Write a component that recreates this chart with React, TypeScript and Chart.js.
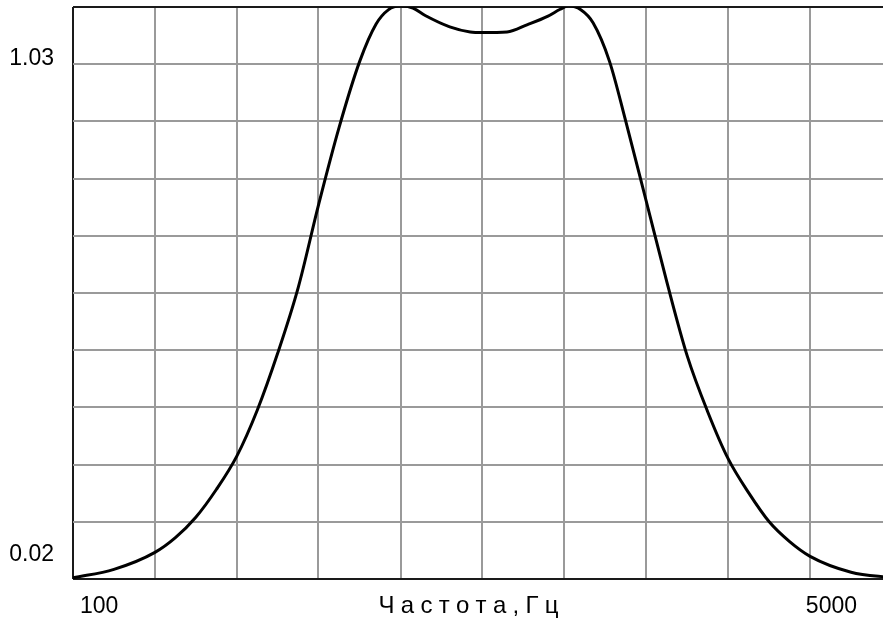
import React, { useEffect, useRef } from "react";
import { Chart, registerables } from "chart.js";

Chart.register(...registerables);

// Frequency axis (Hz), logarithmic, min / max shown as labels
const xRange = [100, 5000];
const xGrid = [100, 148, 219, 323, 478, 707, 1046, 1546, 2287, 3381, 5000];
// Amplitude axis, min / max shown as labels
const yRange = [0.02, 1.03];
const yGrid = [0.02, 0.121, 0.222, 0.323, 0.424, 0.525, 0.626, 0.727, 0.828, 0.929, 1.03];
const xTickLabels = ["100", "5000"];
const yTickLabels = ["0.02", "1.03"];
const axisTitle = "Частота,Гц";

// Response curve
const frequencies = [
  100, 121.6, 147.9, 163.1, 179.8, 198.3, 218.7, 241.1, 265.9, 293.3, 323.4,
  356.6, 393.3, 425.4, 450.9, 478.3, 507.3, 537.8, 604.7, 666.8, 707.1,
  795.1, 876.9, 967, 1025, 1066, 1131, 1199, 1297, 1402, 1546, 1705, 1880,
  2074, 2287, 2522, 2781, 3066, 3381, 4112, 5000,
];
const amplitudes = [
  0.022, 0.037, 0.067, 0.093, 0.129, 0.178, 0.237, 0.318, 0.419, 0.535, 0.682,
  0.818, 0.934, 1.0, 1.025, 1.032, 1.028, 1.015, 0.995, 0.986, 0.985,
  0.986, 0.999, 1.014, 1.026, 1.032, 1.025, 1.002, 0.934, 0.828, 0.687, 0.545, 0.414,
  0.315, 0.232, 0.172, 0.121, 0.086, 0.06, 0.032, 0.022,
];

const FONT = '"Liberation Sans", Arial, sans-serif';
const GRID = "#9a9a9a";
const FRAME = "#1a1a1a";

const labelsPlugin = {
  id: "edgeLabels",
  afterDraw(chart: any) {
    const { ctx, chartArea } = chart;
    const { left, top, right, bottom } = chartArea;
    ctx.save();
    ctx.fillStyle = "#000";
    ctx.textBaseline = "alphabetic";
    ctx.font = `23px ${FONT}`;
    ctx.textAlign = "right";
    ctx.fillText(yTickLabels[1], left - 19, top + 58);
    ctx.fillText(yTickLabels[0], left - 19, bottom - 18);
    const xl = left + 7;
    const xr = right - 35;
    ctx.textAlign = "left";
    ctx.fillText(xTickLabels[0], xl, bottom + 34);
    ctx.textAlign = "right";
    ctx.fillText(xTickLabels[1], xr, bottom + 34);
    // axis title, letter-spaced, centred between the edge labels
    ctx.font = `24px ${FONT}`;
    ctx.textAlign = "left";
    const spacing = 6.3;
    const chars = Array.from(axisTitle);
    const widths = chars.map((c) => ctx.measureText(c).width);
    const total = widths.reduce((a, b) => a + b, 0) + spacing * (chars.length - 1);
    const center = (xl + xr) / 2;
    let x = center - total / 2;
    chars.forEach((c, i) => {
      ctx.fillText(c, x, bottom + 34);
      x += widths[i] + spacing;
    });
    ctx.restore();
  },
};

export default function App() {
  const ref = useRef<HTMLCanvasElement | null>(null);
  useEffect(() => {
    if (!ref.current) return;
    const chart = new Chart(ref.current, {
      type: "line",
      data: {
        datasets: [
          {
            data: frequencies.map((f, i) => ({ x: f, y: amplitudes[i] })),
            borderColor: "#000",
            borderWidth: 3,
            pointRadius: 0,
            fill: false,
            cubicInterpolationMode: "monotone",
          },
        ],
      },
      options: {
        animation: false,
        responsive: false,
        devicePixelRatio: 1,
        events: [],
        layout: { padding: { left: 73, top: 7, right: 8, bottom: 42 } },
        plugins: { legend: { display: false }, tooltip: { enabled: false } },
        scales: {
          x: {
            type: "logarithmic",
            min: xRange[0],
            max: xRange[1],
            afterBuildTicks: (scale: any) => {
              scale.ticks = xGrid.map((v) => ({ value: v }));
            },
            ticks: { display: false },
            border: { display: false },
            grid: {
              drawTicks: false,
              color: (c: any) => (c.index === 0 || c.index === xGrid.length - 1 ? FRAME : GRID),
              lineWidth: 2,
            },
          },
          y: {
            type: "linear",
            min: yRange[0],
            max: yRange[1],
            afterBuildTicks: (scale: any) => {
              scale.ticks = yGrid.map((v) => ({ value: v }));
            },
            ticks: { display: false },
            border: { display: false },
            grid: {
              drawTicks: false,
              color: (c: any) => (c.index === 0 || c.index === yGrid.length - 1 ? FRAME : GRID),
              lineWidth: 2,
            },
          },
        },
      },
      plugins: [labelsPlugin],
    } as any);
    return () => chart.destroy();
  }, []);

  return (
    <div
      style={{
        position: "fixed",
        left: 0,
        top: 0,
        width: 883,
        height: 621,
        overflow: "hidden",
        background: "#fff",
      }}
    >
      <canvas ref={ref} width={900} height={621} style={{ display: "block", width: 900, height: 621 }} />
    </div>
  );
}
